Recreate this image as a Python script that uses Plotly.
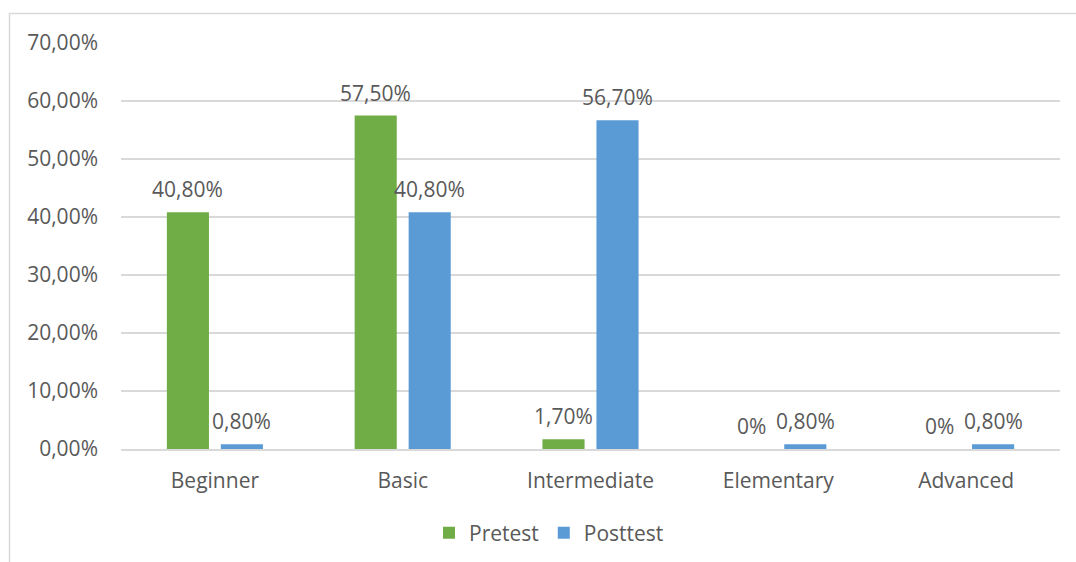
import plotly.graph_objects as go

categories = ["Beginner", "Basic", "Intermediate", "Elementary", "Advanced"]
pretest = [40.8, 57.5, 1.7, 0.0, 0.0]
posttest = [0.8, 40.8, 56.7, 0.8, 0.8]
pretest_labels = ["40,80%", "57,50%", "1,70%", "0%", "0%"]
posttest_labels = ["0,80%", "40,80%", "56,70%", "0,80%", "0,80%"]
y_ticks = [0, 10, 20, 30, 40, 50, 60, 70]
y_tick_labels = ["0,00%", "10,00%", "20,00%", "30,00%", "40,00%", "50,00%", "60,00%", "70,00%"]

GREEN = "#70AD47"
BLUE = "#5B9BD5"
TXT = "#595959"
GRID = "#D9D9D9"
FONT = "Open Sans"
FS = 21

fig = go.Figure()
fig.add_trace(go.Bar(x=categories, y=pretest, name="Pretest", marker=dict(color=GREEN, line=dict(width=0))))
fig.add_trace(go.Bar(x=categories, y=posttest, name="Posttest", marker=dict(color=BLUE, line=dict(width=0))))

for i, c in enumerate(categories):
    fig.add_annotation(x=c, y=pretest[i], text=pretest_labels[i], xshift=-27, yshift=7,
                       yanchor="bottom", showarrow=False, font=dict(family=FONT, size=FS, color=TXT))
    fig.add_annotation(x=c, y=posttest[i], text=posttest_labels[i], xshift=27, yshift=7,
                       yanchor="bottom", showarrow=False, font=dict(family=FONT, size=FS, color=TXT))

# chart border (partially off-canvas, as in reference)
fig.add_shape(type="rect", xref="paper", yref="paper",
              x0=(9.5 - 121) / 939, x1=1.2, y0=-0.6, y1=1 + (43 - 13.5) / 406,
              line=dict(color=GRID, width=1.5), fillcolor="rgba(0,0,0,0)", layer="below")

fig.update_layout(
    width=1076, height=562,
    margin=dict(l=121, r=16, t=43, b=113, autoexpand=False),
    paper_bgcolor="white", plot_bgcolor="white",
    barmode="group", bargap=0.425, bargroupgap=0.22,
    font=dict(family=FONT, size=FS, color=TXT),
    showlegend=True,
    legend=dict(orientation="h", x=(549 - 121) / 939, xanchor="center", y=(449 - 533) / 406, yanchor="middle",
                font=dict(family=FONT, size=FS, color=TXT), itemwidth=30),
    xaxis=dict(showgrid=False, showline=True, linecolor=GRID, linewidth=1.5, ticks="", automargin=False,
               tickfont=dict(family=FONT, size=FS, color=TXT), ticklabelstandoff=12),
    yaxis=dict(range=[0, 70], tickvals=y_ticks, ticktext=y_tick_labels, showgrid=True, gridcolor=GRID,
               gridwidth=1.5, zeroline=False, showline=False, ticks="", automargin=False,
               tickfont=dict(family=FONT, size=FS, color=TXT), ticklabelstandoff=22),
)

fig.write_html("out.html")
